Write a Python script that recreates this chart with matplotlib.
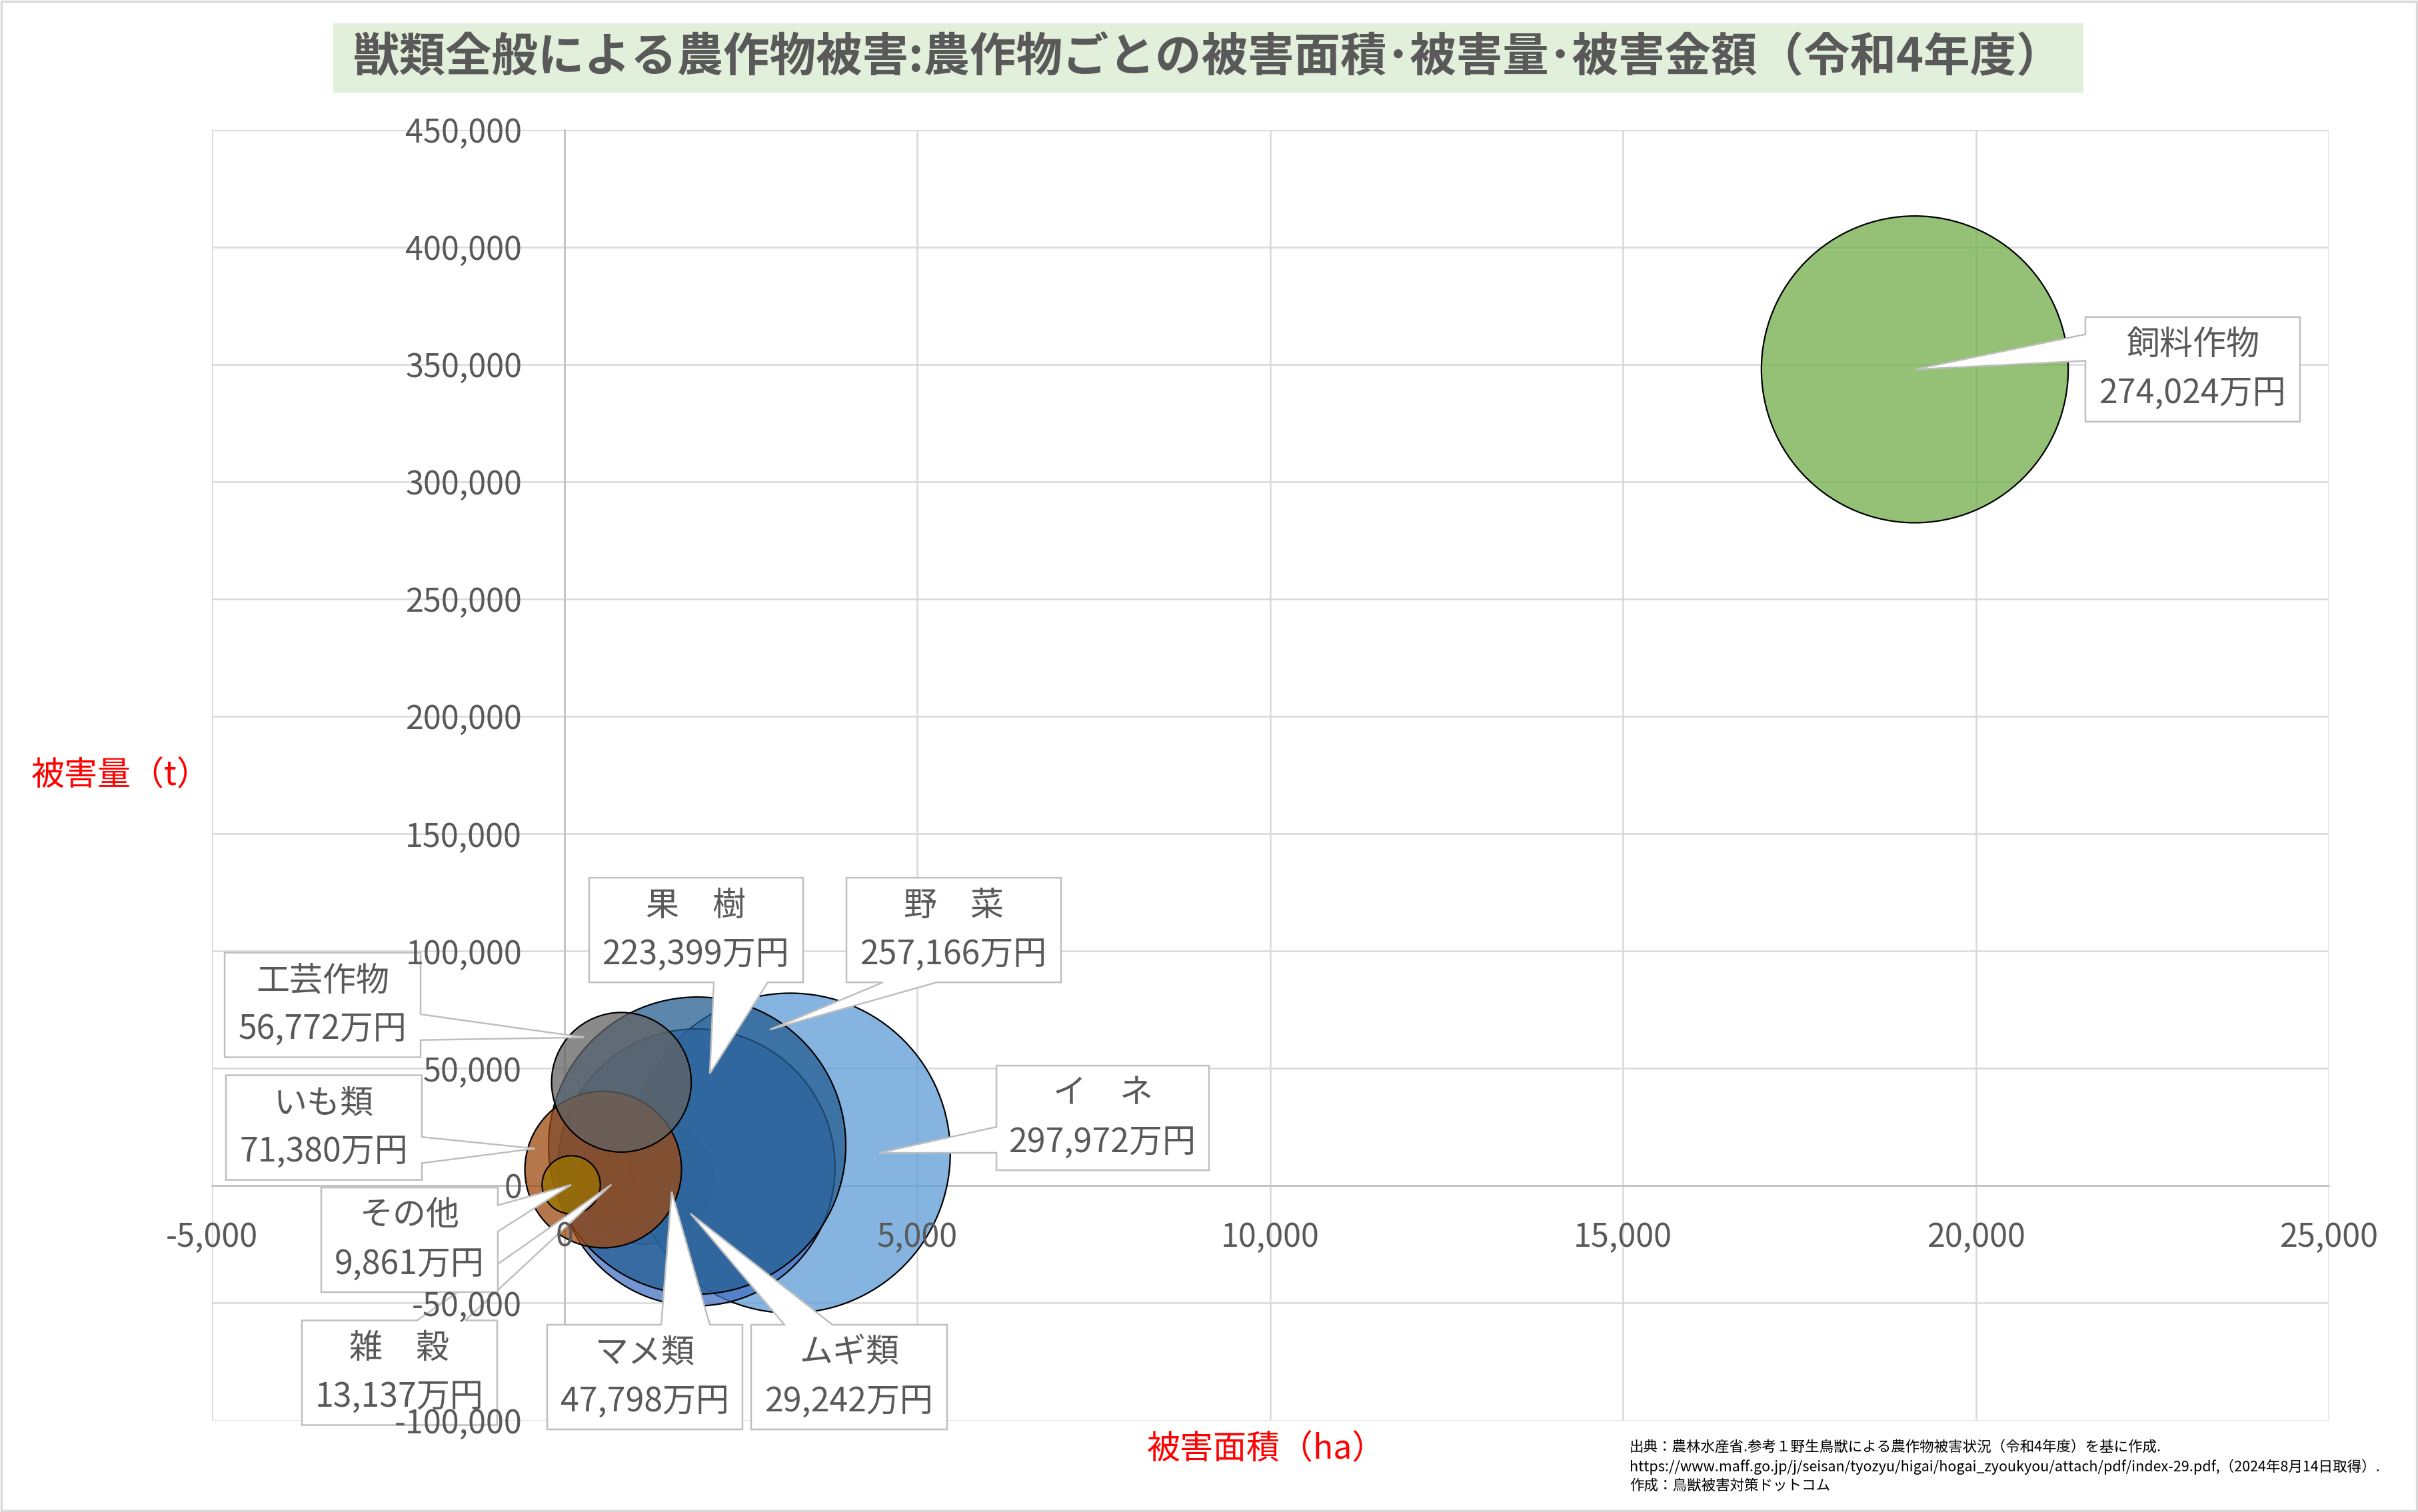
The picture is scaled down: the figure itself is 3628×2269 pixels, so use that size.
import numpy as np
import matplotlib.pyplot as plt
from matplotlib.patches import Polygon, Rectangle
from matplotlib.transforms import IdentityTransform
from matplotlib.ticker import FuncFormatter

plt.rcParams['font.family'] = ['Noto Sans CJK JP', 'DejaVu Sans']

W, H = 3628, 2269
DPI = 100

# --- data ---
crops = ["イネ", "ムギ類", "マメ類", "雑穀", "果樹", "飼料作物", "野菜", "いも類", "工芸作物", "その他"]
label_names = ["イ　ネ", "ムギ類", "マメ類", "雑　穀", "果　樹", "飼料作物", "野　菜", "いも類", "工芸作物", "その他"]
area_ha = [3200, 1400, 1125, 665, 1870, 19135, 1880, 548, 806, 95]
damage_t = [13900, 3000, 2400, 500, 7800, 347900, 17100, 6900, 44100, 400]
money = [297972, 29242, 47798, 13137, 223399, 274024, 257166, 71380, 56772, 9861]  # 万円

xticks = list(range(-5000, 25001, 5000))
yticks = list(range(-100000, 450001, 50000))

# --- style ---
colors = {"イネ": "#5B9BD5", "ムギ類": "#ED7D31", "マメ類": "#A5A5A5", "雑穀": "#FFC000",
          "果樹": "#4472C4", "飼料作物": "#70AD47", "野菜": "#255E91", "いも類": "#9E480E",
          "工芸作物": "#636363", "その他": "#997300"}
draw_order = ["ムギ類", "マメ類", "雑穀", "イネ", "果樹", "野菜", "いも類", "工芸作物", "その他", "飼料作物"]

# callout layout: box centre (data), box width px, side of the pointer, pointer base fractions, tip (data)
callouts = {
    "雑穀": ((-2338, -79700), 293, "top", (0.59, 0.836), (665, 500)),
    "飼料作物": ((23073, 347900), 322, "left", (0.165, 0.418), (19135, 347900)),
    "イネ": ((7627, 28904), 319, "left", (0.586, 0.834), (4458, 14000)),
    "野菜": ((5516, 108970), 322, "bottom", (0.17, 0.42), (2909, 66525)),
    "果樹": ((1865, 108970), 321, "bottom", (0.583, 0.835), (2059, 47780)),
    "工芸作物": ((-3428, 77030), 294, "right", (0.589, 0.835), (279, 63230)),
    "いも類": ((-3409, 24787), 294, "right", (0.59, 0.84), (-419, 15840)),
    "その他": ((-2196, -23055), 265, "right", (0.17, 0.42), (95, 400)),
    "マメ類": ((1138, -81545), 293, "top", (0.584, 0.833), (1519, -2560)),
    "ムギ類": ((4033, -81545), 294, "top", (0.17, 0.415), (1785, -11840)),
}
box_h = 157
text_gray = "#595959"

fig = plt.figure(figsize=(W / DPI, H / DPI), dpi=DPI)
ax = fig.add_axes([317.6 / W, 1 - 2131.5 / H, (3494 - 317.6) / W, (2131.5 - 194.8) / H])
ax.set_xlim(-5000, 25000)
ax.set_ylim(-100000, 450000)

# gridlines under everything
for v in xticks:
    ax.axvline(v, color="#D9D9D9", lw=1.8, zorder=0.5)
for v in yticks:
    ax.axhline(v, color="#D9D9D9", lw=1.8, zorder=0.5)

for s in ["top", "right"]:
    ax.spines[s].set_visible(False)
ax.spines["left"].set_position(("data", 0))
ax.spines["bottom"].set_position(("data", 0))
for s in ["left", "bottom"]:
    ax.spines[s].set_color("#BFBFBF")
    ax.spines[s].set_linewidth(1.8)
    ax.spines[s].set_zorder(0.6)

fmt = FuncFormatter(lambda v, p: f"{int(v):,}")
ax.set_xticks(xticks)
ax.set_yticks(yticks)
ax.xaxis.set_major_formatter(fmt)
ax.yaxis.set_major_formatter(fmt)
ax.tick_params(axis="x", length=0, pad=38, labelsize=35, labelcolor=text_gray)
ax.tick_params(axis="y", length=0, pad=46, labelsize=35, labelcolor=text_gray)
ax.xaxis.set_zorder(20)
ax.yaxis.set_zorder(20)

# bubbles: area proportional to amount
idx = [crops.index(c) for c in draw_order]
k = (480 * 72 / DPI) ** 2 / max(money)
xs = [area_ha[i] for i in idx]
ys = [damage_t[i] for i in idx]
ss = [money[i] * k for i in idx]
fc = [plt.matplotlib.colors.to_rgba(colors[crops[i]], 0.75) for i in idx]
ax.scatter(xs, ys, s=ss, c=fc, edgecolors="black", linewidths=1.6, zorder=2)

# callouts
z = 4
for name, (ctr, bw, side, (f1, f2), tip) in callouts.items():
    i = crops.index(name)
    cx, cy = ax.transData.transform(ctr)
    tx, ty = ax.transData.transform(tip)
    x0, x1 = cx - bw / 2, cx + bw / 2
    y0, y1 = cy - box_h / 2, cy + box_h / 2
    pts = [(x0, y1)]
    if side == "top":
        pts += [(x0 + f1 * bw, y1), (tx, ty), (x0 + f2 * bw, y1)]
    pts += [(x1, y1)]
    if side == "right":
        pts += [(x1, y1 - f1 * box_h), (tx, ty), (x1, y1 - f2 * box_h)]
    pts += [(x1, y0)]
    if side == "bottom":
        pts += [(x0 + f2 * bw, y0), (tx, ty), (x0 + f1 * bw, y0)]
    pts += [(x0, y0)]
    if side == "left":
        pts += [(x0, y1 - f2 * box_h), (tx, ty), (x0, y1 - f1 * box_h)]
    poly = Polygon(pts, closed=True, transform=IdentityTransform(), facecolor="white",
                   edgecolor="#BFBFBF", lw=1.8, zorder=z, clip_on=False)
    ax.add_patch(poly)
    ax.text(cx, cy + 0.23 * box_h, label_names[i], transform=IdentityTransform(), ha="center",
            va="center", fontsize=36, color=text_gray, zorder=z + 0.5, clip_on=False)
    ax.text(cx, cy - 0.24 * box_h, f"{money[i]:,}万円", transform=IdentityTransform(), ha="center",
            va="center", fontsize=36, color=text_gray, zorder=z + 0.5, clip_on=False)
    z += 1

# title
fig.patches.append(Rectangle((500 / W, 1 - 139 / H), 2626 / W, 104 / H, transform=fig.transFigure,
                             facecolor="#E2EFDA", edgecolor="none", zorder=0))
fig.text(1813 / W, 1 - 87 / H, "獣類全般による農作物被害:農作物ごとの被害面積･被害量･被害金額（令和4年度）",
         ha="center", va="center", fontsize=50, fontweight="bold", color=text_gray)

# axis titles
fig.text(181 / W, 1 - 1164 / H, "被害量（t）", ha="center", va="center", fontsize=36, color="red")
fig.text(1900 / W, 1 - 2175 / H, "被害面積（ha）", ha="center", va="center", fontsize=36, color="red")

# source note
notes = ["出典：農林水産省.参考１野生鳥獣による農作物被害状況（令和4年度）を基に作成.",
         "https://www.maff.go.jp/j/seisan/tyozyu/higai/hogai_zyoukyou/attach/pdf/index-29.pdf,（2024年8月14日取得）.",
         "作成：鳥獣被害対策ドットコム"]
for j, line in enumerate(notes):
    fig.text(2445 / W, 1 - (2172 + 29 * j) / H, line, ha="left", va="center", fontsize=15.5, color="black")

# outer border
fig.patches.append(Rectangle((0.0005, 0.0008), 0.999, 0.9985, transform=fig.transFigure,
                             fill=False, edgecolor="#D9D9D9", lw=2.5))

fig.savefig("out.png", dpi=DPI)
